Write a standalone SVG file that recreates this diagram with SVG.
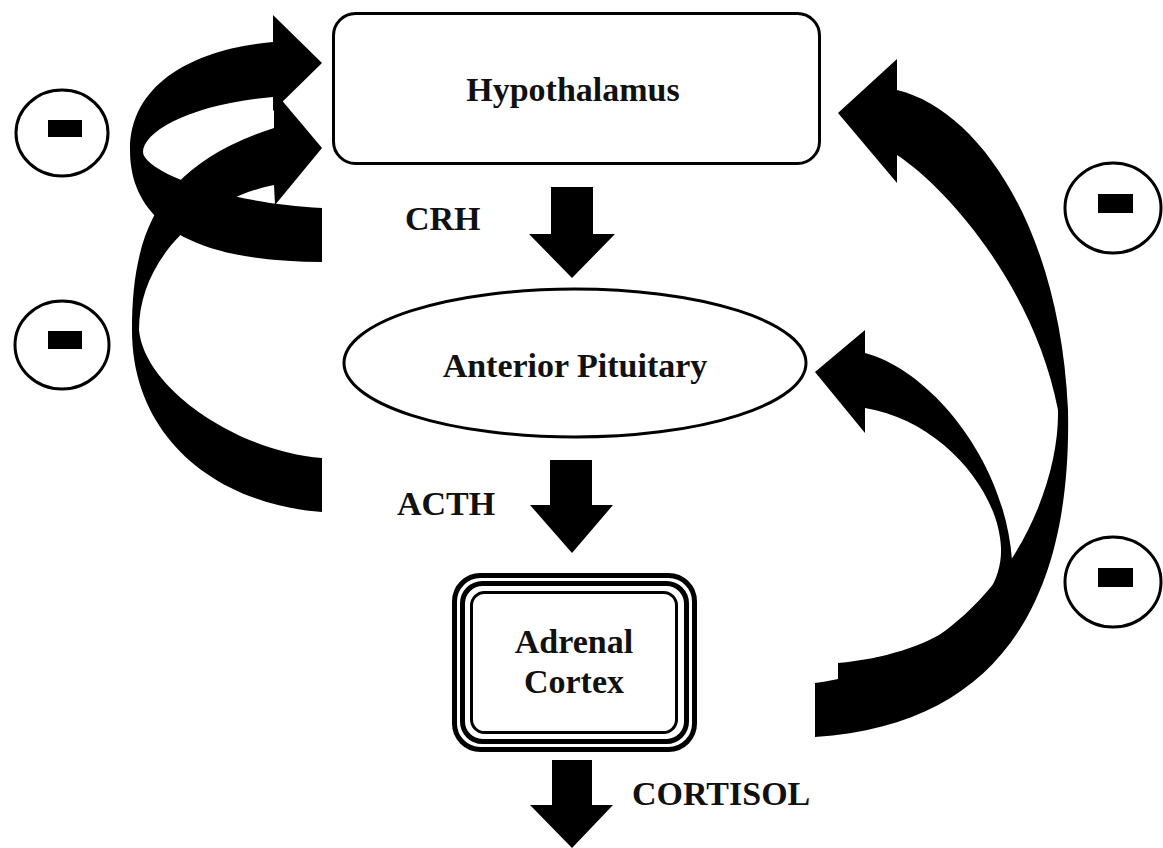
<svg xmlns="http://www.w3.org/2000/svg" width="1163" height="848" viewBox="0 0 1163 848">
<style>
.lbl{font-family:"Liberation Serif","Times New Roman",serif;font-weight:bold;font-size:34px;fill:#111}
.node{fill:#fff;stroke:#000;stroke-width:3}
.blk{fill:#000;stroke:none}
.minus circle{fill:#fff;stroke:#000;stroke-width:3}
</style>
<rect width="1163" height="848" fill="#fff"/>
<g id="connectors">
  <!-- CRH down arrow -->
  <path class="blk" d="M551,187 H593 V234 H615 L572,278 L529,234 H551 Z"/>
  <!-- ACTH down arrow -->
  <path class="blk" d="M550,460 H592 V505 H613 L572,553 L530,505 H550 Z"/>
  <!-- Cortisol down arrow -->
  <path class="blk" d="M552,760 H592 V805 H613 L572,848 L530,805 H552 Z"/>
  <!-- left upper curved arrow -->
  <path id="fb-left-upper" class="blk" d="M322,262 C215,262 130,235 130,150 C130,80 200,48 273,42 L273,15 L322,63 L273,111 L273,97 C190,104 143,132 143,152 C143,170 220,203 322,208 Z"/>
  <!-- left lower curved arrow -->
  <path id="fb-left-lower" class="blk" d="M322,512 C220,505 132,440 132,330 C132,230 160,165 274,128 L274,91 L322,148 L275,205 L274,185 C200,200 139,260 139,330 C145,390 240,452 322,458 Z"/>
  <!-- right big curved arrow -->
  <path id="fb-right-big" class="blk" d="M815,737 C1000,725 1072,600 1068,410 C1060,230 980,110 897,90 L897,59 L838,113 L897,183 L897,155 C950,190 1035,290 1058,410 C1060,500 990,660 815,683 Z"/>
  <!-- right small curved arrow -->
  <path id="fb-right-small" class="blk" d="M838,663 C930,655 1003,610 1001,548 C999,490 940,420 865,408 L865,433 L815,372 L865,330 L865,353 C930,370 1005,460 1012,560 C1015,660 950,715 838,722 Z"/>
</g>
<g id="hypothalamus">
  <rect class="node" x="333.5" y="13.5" width="486" height="150" rx="22"/>
  <text class="lbl" x="573" y="101" text-anchor="middle">Hypothalamus</text>
</g>
<g id="anterior-pituitary">
  <ellipse class="node" cx="575" cy="363" rx="231" ry="74"/>
  <text class="lbl" x="575" y="377" text-anchor="middle">Anterior Pituitary</text>
</g>
<g id="adrenal-cortex">
  <rect x="454.5" y="575.5" width="240" height="174" rx="26" fill="#fff" stroke="#000" stroke-width="5"/>
  <rect x="462.5" y="583.5" width="224" height="158" rx="20" fill="none" stroke="#000" stroke-width="5"/>
  <rect x="471.5" y="592.5" width="205" height="140" rx="13" fill="none" stroke="#000" stroke-width="3"/>
  <text class="lbl" x="574" y="653" text-anchor="middle">Adrenal</text>
  <text class="lbl" x="574" y="693" text-anchor="middle">Cortex</text>
</g>
<g id="labels">
  <text class="lbl" x="405" y="230">CRH</text>
  <text class="lbl" x="397" y="515">ACTH</text>
  <text class="lbl" x="632" y="805">CORTISOL</text>
</g>
<g id="minus-1" class="minus">
  <ellipse cx="62" cy="133" rx="46" ry="43" fill="#fff" stroke="#000" stroke-width="3"/>
  <rect class="blk" x="48" y="120" width="34" height="17"/>
</g>
<g id="minus-2" class="minus">
  <ellipse cx="62" cy="345" rx="47" ry="44" fill="#fff" stroke="#000" stroke-width="3"/>
  <rect class="blk" x="48" y="331" width="34" height="18"/>
</g>
<g id="minus-3" class="minus">
  <ellipse cx="1113" cy="208" rx="48" ry="45" fill="#fff" stroke="#000" stroke-width="3"/>
  <rect class="blk" x="1098" y="194" width="35" height="19"/>
</g>
<g id="minus-4" class="minus">
  <ellipse cx="1113" cy="582" rx="48" ry="45" fill="#fff" stroke="#000" stroke-width="3"/>
  <rect class="blk" x="1098" y="568" width="35" height="19"/>
</g>
</svg>
